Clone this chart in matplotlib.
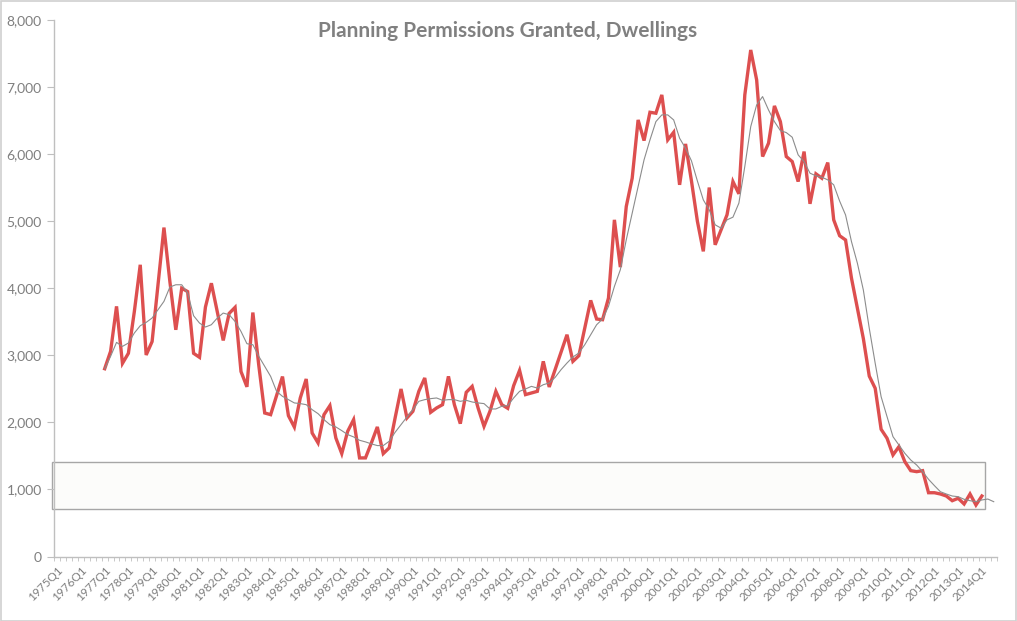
import matplotlib
matplotlib.use("Agg")
import matplotlib.pyplot as plt
from matplotlib.patches import Rectangle
from matplotlib.ticker import FuncFormatter
import numpy as np

# Categories: 1975Q1 .. 2014Q3
quarters = [f"{y}Q{q}" for y in range(1975, 2015) for q in range(1, 5)][:159]

# Planning permissions granted (red), starting 1977Q1 (index 8) to 2014Q1
red_start = 8
red_values = [
    2800, 3060, 3730, 2880, 3030, 3650, 4350, 3005, 3205, 4050,
    4905, 4100, 3380, 4000, 3950, 3030, 2970, 3720, 4075, 3650,
    3222, 3625, 3715, 2758, 2530, 3638, 2850, 2140, 2115, 2400,
    2683, 2100, 1930, 2364, 2647, 1842, 1694, 2115, 2250, 1768,
    1534, 1867, 2041, 1470, 1470, 1694, 1932, 1534, 1619, 2066,
    2498, 2066, 2165, 2463, 2662, 2150, 2215, 2264, 2686, 2264,
    1981, 2448, 2537, 2215, 1941, 2165, 2463, 2264, 2210, 2547,
    2775, 2414, 2438, 2463, 2910, 2528, 2786, 3044, 3307, 2910,
    2994, 3407, 3819, 3541, 3531, 3854, 5020, 4315, 5219, 5641,
    6510, 6202, 6624, 6610, 6883, 6212, 6326, 5542, 6152, 5600,
    5000, 4550, 5502, 4648, 4871, 5095, 5591, 5408, 6883, 7553,
    7106, 5964, 6162, 6719, 6485, 5964, 5889, 5591, 6038, 5259,
    5706, 5641, 5874, 5020, 4783, 4720, 4150, 3700, 3250, 2690,
    2508, 1897, 1763, 1514, 1637, 1414, 1280, 1265, 1280, 951,
    951, 932, 902, 832, 868, 783, 932, 768, 902,
]

# Smoothed series (grey), 1977Q1 to 2014Q3
grey_start = 8
grey_values = [
    2800, 2985, 3193, 3133, 3183, 3332, 3441, 3491, 3556, 3680,
    3804, 4018, 4052, 4052, 3928, 3590, 3481, 3422, 3456, 3556,
    3630, 3605, 3505, 3356, 3173, 3158, 2985, 2835, 2686, 2463,
    2388, 2339, 2290, 2280, 2264, 2190, 2130, 2041, 1966, 1932,
    1877, 1818, 1783, 1733, 1709, 1679, 1654, 1654, 1718, 1852,
    1966, 2081, 2190, 2314, 2339, 2354, 2364, 2329, 2339, 2339,
    2314, 2329, 2304, 2290, 2280, 2200, 2200, 2240, 2250, 2364,
    2463, 2498, 2537, 2512, 2562, 2587, 2671, 2786, 2885, 2975,
    3034, 3158, 3307, 3456, 3541, 3729, 4027, 4276, 4722, 5120,
    5516, 5914, 6212, 6485, 6585, 6585, 6510, 6237, 6088, 5900,
    5600, 5318, 5169, 4946, 4896, 5020, 5060, 5269, 5815, 6410,
    6734, 6858, 6659, 6485, 6351, 6321, 6252, 5989, 5889, 5716,
    5676, 5656, 5616, 5542, 5300, 5093, 4695, 4372, 3974, 3403,
    2881, 2383, 2085, 1787, 1663, 1539, 1439, 1364, 1265, 1151,
    1056, 966, 932, 902, 892, 853, 832, 817, 843, 857, 817,
]

W, H = 1017, 621
fig = plt.figure(figsize=(W / 100, H / 100), dpi=100)
plt.rcParams['font.family'] = ['Lato', 'DejaVu Sans']

ax = fig.add_axes([54.3 / W, 1 - 556.5 / H, (996.7 - 54.3) / W, (556.5 - 20) / H])

n = len(quarters)
xr = np.arange(red_start, red_start + len(red_values))
xg = np.arange(grey_start, grey_start + len(grey_values))

# highlight box
box = Rectangle((-0.9, 708), 157.5, 706, facecolor='#fcfcfa', edgecolor='#a6a6a6',
                linewidth=1.0, zorder=1, clip_on=False)
ax.add_patch(box)

ax.plot(xr, red_values, color='#dd4f4f', linewidth=2.4, zorder=3, solid_joinstyle='miter')
ax.plot(xg, grey_values, color='#8c8c8c', linewidth=0.8, zorder=4)

ax.set_xlim(-0.5, n - 0.5)
ax.set_ylim(0, 8000)

ax.set_yticks(np.arange(0, 8001, 1000))
ax.yaxis.set_major_formatter(FuncFormatter(lambda v, p: f"{int(v):,}"))
ax.tick_params(axis='y', direction='out', length=5, width=0.8, color='#bfbfbf',
               labelsize=10, labelcolor='#7f7f7f', pad=4)

label_pos = np.arange(0, n, 4)
ax.set_xticks(label_pos)
ax.set_xticklabels([quarters[i] for i in label_pos], rotation=45, ha='right',
                   rotation_mode='anchor')
ax.set_xticks(np.arange(-0.5, n, 1), minor=True)
ax.tick_params(axis='x', which='major', length=0, labelsize=8.5, labelcolor='#7f7f7f', pad=6)
ax.tick_params(axis='x', which='minor', direction='out', length=3, width=0.6, color='#bfbfbf')

for s in ['top', 'right']:
    ax.spines[s].set_visible(False)
for s in ['left', 'bottom']:
    ax.spines[s].set_color('#bfbfbf')
    ax.spines[s].set_linewidth(1.0)

fig.text(508 / W, 1 - 31 / H, "Planning Permissions Granted, Dwellings",
         ha='center', va='center', fontsize=15, fontweight='bold', color='#808080')

fig.patches.append(Rectangle((0.5 / W, 0.5 / H), 1 - 1.5 / W, 1 - 1.5 / H,
                             transform=fig.transFigure, fill=False,
                             edgecolor='#d0d0d0', linewidth=1.2))

fig.savefig('out.png', dpi=100)
